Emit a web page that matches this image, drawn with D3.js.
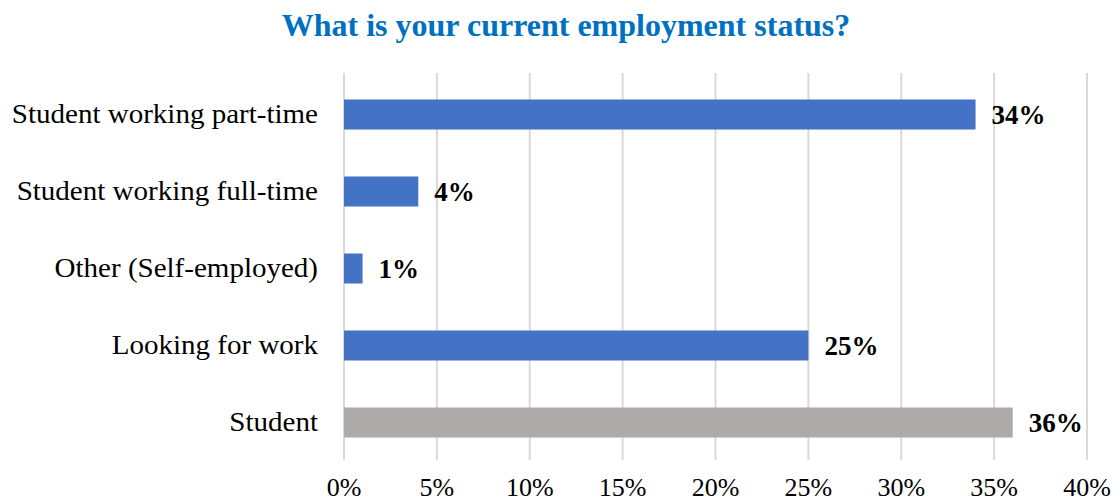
<!DOCTYPE html>
<html>
<head>
<meta charset="utf-8">
<script src="https://cdn.jsdelivr.net/npm/d3@7"></script>
<style>
  body { margin: 0; background: #fff; }
  svg text { font-family: "Liberation Serif", "Times New Roman", serif; }
</style>
</head>
<body>
<div id="chart"></div>
<script>
// data
var categories = ["Student working part-time", "Student working full-time", "Other (Self-employed)", "Looking for work", "Student"];
var values = [34, 4, 1, 25, 36];
var barColors = ["#4472C4", "#4472C4", "#4472C4", "#4472C4", "#AEAAAA"];
var xTicks = [0, 5, 10, 15, 20, 25, 30, 35, 40];

var params = {
    width: 1116, height: 501,
    left: 344, right: 1087,
    top: 76, bottom: 461
};

var svg = d3.select("#chart")
            .append("svg")
            .attr("width", params.width)
            .attr("height", params.height);

var x = d3.scaleLinear().domain([0, 40]).range([params.left, params.right]);
var y = d3.scaleBand().domain(categories)
          .range([params.top, params.bottom])
          .paddingInner(0.61).paddingOuter(0.305);

// vertical gridlines
svg.selectAll(".grid")
    .data(xTicks).enter()
    .append("line")
        .attr("class", "grid")
        .attr("x1", d => x(d)).attr("x2", d => x(d))
        .attr("y1", 73).attr("y2", 460)
        .attr("stroke", "#D9D9D9")
        .attr("stroke-width", 2);

// x tick labels
svg.selectAll(".xtick")
    .data(xTicks).enter()
    .append("text")
        .attr("class", "xtick")
        .attr("x", d => x(d))
        .attr("y", 496)
        .attr("text-anchor", "middle")
        .attr("font-size", "26px")
        .attr("fill", "#000")
        .text(d => d + "%");

// bars
var rows = categories.map((c, i) => ({cat: c, val: values[i], col: barColors[i]}));

svg.selectAll(".bar")
    .data(rows).enter()
    .append("rect")
        .attr("class", "bar")
        .attr("x", x(0))
        .attr("y", d => y(d.cat))
        .attr("width", d => x(d.val) - x(0))
        .attr("height", y.bandwidth())
        .attr("fill", d => d.col);

// value labels
svg.selectAll(".val")
    .data(rows).enter()
    .append("text")
        .attr("class", "val")
        .attr("x", d => x(d.val) + 16)
        .attr("y", d => y(d.cat) + y.bandwidth() / 2)
        .attr("dy", "0.35em")
        .attr("font-size", "27px")
        .attr("font-weight", "bold")
        .attr("fill", "#000")
        .text(d => d.val + "%");

// category labels (reference text is a bit wide, so stretch horizontally)
svg.selectAll(".cat")
    .data(categories).enter()
    .append("text")
        .attr("class", "cat")
        .attr("transform", d => "translate(318," + (y(d) + y.bandwidth() / 2) + ") scale(1.075,1)")
        .attr("dy", "0.3em")
        .attr("text-anchor", "end")
        .attr("font-size", "27px")
        .attr("fill", "#000")
        .text(d => d);

// title
svg.append("text")
    .attr("x", 566)
    .attr("y", 36)
    .attr("text-anchor", "middle")
    .attr("font-size", "32px")
    .attr("font-weight", "bold")
    .attr("fill", "#0070C0")
    .text("What is your current employment status?");
</script>
</body>
</html>
